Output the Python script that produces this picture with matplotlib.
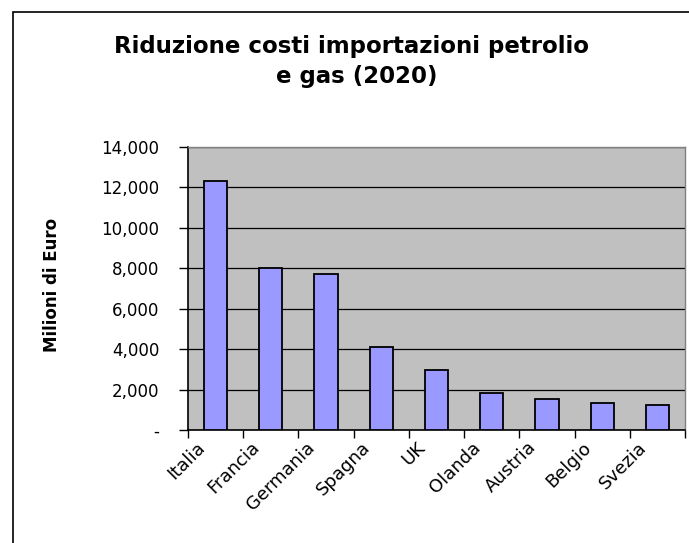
import matplotlib
matplotlib.use("Agg")
import matplotlib.pyplot as plt
from matplotlib.ticker import FuncFormatter, FixedLocator
from matplotlib.patches import Rectangle
from matplotlib.transforms import ScaledTranslation

categories = ["Italia", "Francia", "Germania", "Spagna", "UK", "Olanda", "Austria", "Belgio", "Svezia"]
values = [12300, 8000, 7700, 4100, 2950, 1850, 1550, 1320, 1250]
yticks = [0, 2000, 4000, 6000, 8000, 10000, 12000, 14000]
title_lines = ["Riduzione costi importazioni petrolio", "e gas (2020)"]

plt.rcParams['font.family'] = ['DejaVu Sans']

W, H = 689, 543
fig = plt.figure(figsize=(W / 100, H / 100), dpi=100)
fig.patch.set_facecolor('white')
# outer chart border
fig.patches.append(Rectangle((13 / W, -0.01), 1.1, 1 - 12 / H + 0.01, transform=fig.transFigure,
                             fill=False, edgecolor='black', linewidth=1.2, zorder=0))

ax = fig.add_axes([188 / W, 1 - 430 / H, (685 - 188) / W, (430 - 147) / H])
ax.set_facecolor('#C0C0C0')
x = list(range(len(categories)))
ax.bar(x, values, width=0.42, color='#9999FF', edgecolor='black', linewidth=1.3, zorder=3)

ax.set_xlim(-0.5, len(categories) - 0.5)
ax.set_ylim(0, 14000)
ax.set_yticks(yticks)
ax.yaxis.set_major_formatter(FuncFormatter(lambda v, p: '-' if v == 0 else f'{int(v):,}'))
ax.grid(axis='y', color='black', linewidth=0.9, zorder=1)
ax.set_axisbelow(True)

ax.set_xticks(x)
ax.set_xticklabels(categories, rotation=45, ha='right', va='top', rotation_mode='anchor', fontsize=13)
ax.tick_params(axis='x', which='major', length=0, pad=6)
off = ScaledTranslation(-20 / 100, 0, fig.dpi_scale_trans)
for lbl in ax.get_xticklabels():
    lbl.set_transform(lbl.get_transform() + off)
ax.xaxis.set_minor_locator(FixedLocator([i - 0.5 for i in range(len(categories) + 1)]))
ax.tick_params(axis='x', which='minor', length=6, width=1, direction='out', color='black')
ax.tick_params(axis='y', length=6.5, width=1, direction='out', labelsize=12, pad=14)

for s in ['left', 'bottom']:
    ax.spines[s].set_color('black')
    ax.spines[s].set_linewidth(1.2)
for s in ['top', 'right']:
    ax.spines[s].set_color('#808080')
    ax.spines[s].set_linewidth(1.0)

fig.text(52 / W, 1 - 285 / H, 'Milioni di Euro', rotation=90, ha='center', va='center',
         fontsize=12, fontweight='bold')

fig.text(352 / W, 1 - 46 / H, title_lines[0], ha='center', va='center', fontsize=16.5, fontweight='bold')
fig.text(357 / W, 1 - 77 / H, title_lines[1], ha='center', va='center', fontsize=16.5, fontweight='bold')

fig.savefig('out.png', dpi=100)
